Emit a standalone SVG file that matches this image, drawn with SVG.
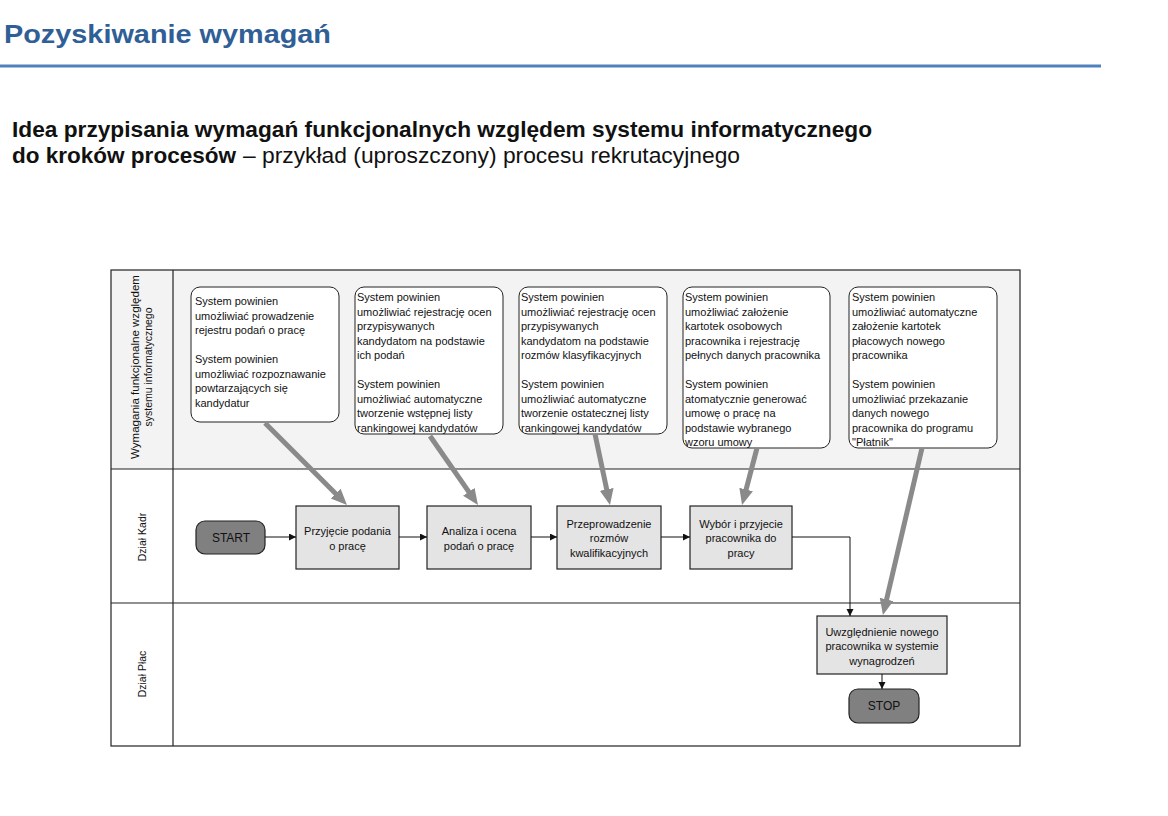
<svg xmlns="http://www.w3.org/2000/svg" width="1168" height="816" viewBox="0 0 1168 816">
  <style>
    text { font-family: "Liberation Sans", Arial, sans-serif; fill: #111; }
    .title { font-size: 26px; font-weight: bold; fill: #2f5f96; }
    .sub { font-size: 22px; }
    .req { font-size: 11px; }
    .proc { font-size: 11px; text-anchor: middle; }
    .lane { font-size: 10.5px; text-anchor: middle; }
    .term { font-size: 12px; text-anchor: middle; }
    .reqbox { fill: #ffffff; stroke: #222; stroke-width: 1; }
    .procbox { fill: #e4e4e4; stroke: #222; stroke-width: 1.2; }
    .termbox { fill: #808080; stroke: #222; stroke-width: 1.2; }
    .frame { fill: none; stroke: #222; stroke-width: 1.2; }
    .flow { fill: none; stroke: #111; stroke-width: 1; marker-end: url(#small); }
    .link { fill: none; stroke: #8a8a8a; stroke-width: 5; marker-end: url(#big); }
  </style>
  <defs>
    <marker id="small" markerUnits="userSpaceOnUse" markerWidth="8" markerHeight="8" refX="7" refY="3.5" orient="auto">
      <path d="M0,0 L7,3.5 L0,7 z" fill="#111"/>
    </marker>
    <marker id="big" markerUnits="userSpaceOnUse" markerWidth="17" markerHeight="15" refX="4" refY="7" orient="auto">
      <path d="M0,0 L16,7 L0,14 z" fill="#8a8a8a"/>
    </marker>
  </defs>

  <rect width="1168" height="816" fill="#ffffff"/>

  <!-- page heading -->
  <g id="heading">
    <text class="title" x="4" y="43" textLength="327" lengthAdjust="spacingAndGlyphs">Pozyskiwanie wymagań</text>
    <line x1="0" y1="66" x2="1101" y2="66" stroke="#4f81bd" stroke-width="3"/>
    <text class="sub" x="12" y="137" font-weight="bold" textLength="860" lengthAdjust="spacingAndGlyphs">Idea przypisania wymagań funkcjonalnych względem systemu informatycznego</text>
    <text class="sub" x="12" y="163"><tspan font-weight="bold" textLength="224" lengthAdjust="spacingAndGlyphs">do kroków procesów</tspan><tspan x="243" y="163" textLength="497" lengthAdjust="spacingAndGlyphs">– przykład (uproszczony) procesu rekrutacyjnego</tspan></text>
  </g>

  <!-- swimlane frame -->
  <g id="lanes">
    <rect x="111" y="270" width="909" height="199" fill="#f3f3f3"/>
    <rect class="frame" x="111" y="270" width="909" height="476"/>
    <line class="frame" x1="173" y1="270" x2="173" y2="746"/>
    <line class="frame" x1="111" y1="469" x2="1020" y2="469"/>
    <line class="frame" x1="111" y1="603" x2="1020" y2="603"/>
    <text class="lane" transform="translate(139,367) rotate(-90)" textLength="184" lengthAdjust="spacingAndGlyphs">Wymagania funkcjonalne względem</text>
    <text class="lane" transform="translate(152,367) rotate(-90)">systemu informatycznego</text>
    <text class="lane" transform="translate(146,537) rotate(-90)">Dział Kadr</text>
    <text class="lane" transform="translate(146,674) rotate(-90)">Dział Płac</text>
  </g>

  <!-- requirement notes -->
  <g id="req1">
    <rect class="reqbox" x="191" y="287" width="148" height="135" rx="9"/>
    <text class="req" x="195" y="305">
      <tspan x="195" dy="0">System powinien</tspan>
      <tspan x="195" dy="14.5">umożliwiać prowadzenie</tspan>
      <tspan x="195" dy="14.5">rejestru podań o pracę</tspan>
      <tspan x="195" dy="29">System powinien</tspan>
      <tspan x="195" dy="14.5">umożliwiać rozpoznawanie</tspan>
      <tspan x="195" dy="14.5">powtarzających się</tspan>
      <tspan x="195" dy="14.5">kandydatur</tspan>
    </text>
  </g>
  <g id="req2">
    <rect class="reqbox" x="355" y="287" width="148" height="147" rx="9"/>
    <text class="req" x="357" y="301">
      <tspan x="357" dy="0">System powinien</tspan>
      <tspan x="357" dy="14.5">umożliwiać rejestrację ocen</tspan>
      <tspan x="357" dy="14.5">przypisywanych</tspan>
      <tspan x="357" dy="14.5">kandydatom na podstawie</tspan>
      <tspan x="357" dy="14.5">ich podań</tspan>
      <tspan x="357" dy="29">System powinien</tspan>
      <tspan x="357" dy="14.5">umożliwiać automatyczne</tspan>
      <tspan x="357" dy="14.5">tworzenie wstępnej listy</tspan>
      <tspan x="357" dy="14.5">rankingowej kandydatów</tspan>
    </text>
  </g>
  <g id="req3">
    <rect class="reqbox" x="519" y="287" width="148" height="147" rx="9"/>
    <text class="req" x="521" y="301">
      <tspan x="521" dy="0">System powinien</tspan>
      <tspan x="521" dy="14.5">umożliwiać rejestrację ocen</tspan>
      <tspan x="521" dy="14.5">przypisywanych</tspan>
      <tspan x="521" dy="14.5">kandydatom na podstawie</tspan>
      <tspan x="521" dy="14.5">rozmów klasyfikacyjnych</tspan>
      <tspan x="521" dy="29">System powinien</tspan>
      <tspan x="521" dy="14.5">umożliwiać automatyczne</tspan>
      <tspan x="521" dy="14.5">tworzenie ostatecznej listy</tspan>
      <tspan x="521" dy="14.5">rankingowej kandydatów</tspan>
    </text>
  </g>
  <g id="req4">
    <rect class="reqbox" x="683" y="287" width="147" height="161" rx="9"/>
    <text class="req" x="685" y="301">
      <tspan x="685" dy="0">System powinien</tspan>
      <tspan x="685" dy="14.5">umożliwiać założenie</tspan>
      <tspan x="685" dy="14.5">kartotek osobowych</tspan>
      <tspan x="685" dy="14.5">pracownika i rejestrację</tspan>
      <tspan x="685" dy="14.5">pełnych danych pracownika</tspan>
      <tspan x="685" dy="29">System powinien</tspan>
      <tspan x="685" dy="14.5">atomatycznie generować</tspan>
      <tspan x="685" dy="14.5">umowę o pracę na</tspan>
      <tspan x="685" dy="14.5">podstawie wybranego</tspan>
      <tspan x="685" dy="14.5">wzoru umowy</tspan>
    </text>
  </g>
  <g id="req5">
    <rect class="reqbox" x="849" y="287" width="148" height="161" rx="9"/>
    <text class="req" x="852" y="301">
      <tspan x="852" dy="0">System powinien</tspan>
      <tspan x="852" dy="14.5">umożliwiać automatyczne</tspan>
      <tspan x="852" dy="14.5">założenie kartotek</tspan>
      <tspan x="852" dy="14.5">płacowych nowego</tspan>
      <tspan x="852" dy="14.5">pracownika</tspan>
      <tspan x="852" dy="29">System powinien</tspan>
      <tspan x="852" dy="14.5">umożliwiać przekazanie</tspan>
      <tspan x="852" dy="14.5">danych nowego</tspan>
      <tspan x="852" dy="14.5">pracownika do programu</tspan>
      <tspan x="852" dy="14.5">"Płatnik"</tspan>
    </text>
  </g>

  <!-- process steps -->
  <g id="start">
    <rect class="termbox" x="196" y="521" width="69" height="33" rx="9"/>
    <text class="term" x="231" y="542">START</text>
  </g>
  <g id="step1">
    <rect class="procbox" x="296" y="506" width="103" height="63"/>
    <text class="proc" x="347.5" y="535">Przyjęcie podania</text>
    <text class="proc" x="347.5" y="550">o pracę</text>
  </g>
  <g id="step2">
    <rect class="procbox" x="427" y="506" width="104" height="63"/>
    <text class="proc" x="479" y="535">Analiza i ocena</text>
    <text class="proc" x="479" y="550">podań o pracę</text>
  </g>
  <g id="step3">
    <rect class="procbox" x="557" y="506" width="104" height="63"/>
    <text class="proc" x="609" y="528">Przeprowadzenie</text>
    <text class="proc" x="609" y="542">rozmów</text>
    <text class="proc" x="609" y="557">kwalifikacyjnych</text>
  </g>
  <g id="step4">
    <rect class="procbox" x="690" y="506" width="102" height="63"/>
    <text class="proc" x="741" y="528">Wybór i przyjecie</text>
    <text class="proc" x="741" y="542">pracownika do</text>
    <text class="proc" x="741" y="557">pracy</text>
  </g>
  <g id="step5">
    <rect class="procbox" x="817" y="616" width="130" height="58"/>
    <text class="proc" x="882" y="636">Uwzględnienie nowego</text>
    <text class="proc" x="882" y="650">pracownika w systemie</text>
    <text class="proc" x="882" y="665">wynagrodzeń</text>
  </g>
  <g id="stop">
    <rect class="termbox" x="849" y="689" width="70" height="34" rx="9"/>
    <text class="term" x="884" y="710">STOP</text>
  </g>

  <!-- connectors -->
  <g id="connectors">
    <line class="flow" x1="265" y1="537" x2="296" y2="537"/>
    <line class="flow" x1="399" y1="537" x2="427" y2="537"/>
    <line class="flow" x1="531" y1="537" x2="557" y2="537"/>
    <line class="flow" x1="661" y1="537" x2="690" y2="537"/>
    <polyline class="flow" points="792,537 850,537 850,616"/>
    <line class="flow" x1="882" y1="674" x2="882" y2="689"/>
    <line class="link" x1="265" y1="423" x2="338.5" y2="496.5"/>
    <line class="link" x1="430" y1="436" x2="471.1" y2="495.1"/>
    <line class="link" x1="595" y1="434" x2="607.5" y2="493.3"/>
    <line class="link" x1="757" y1="448" x2="745.1" y2="493.4"/>
    <line class="link" x1="922" y1="448" x2="885.7" y2="603.3"/>
  </g>
</svg>
